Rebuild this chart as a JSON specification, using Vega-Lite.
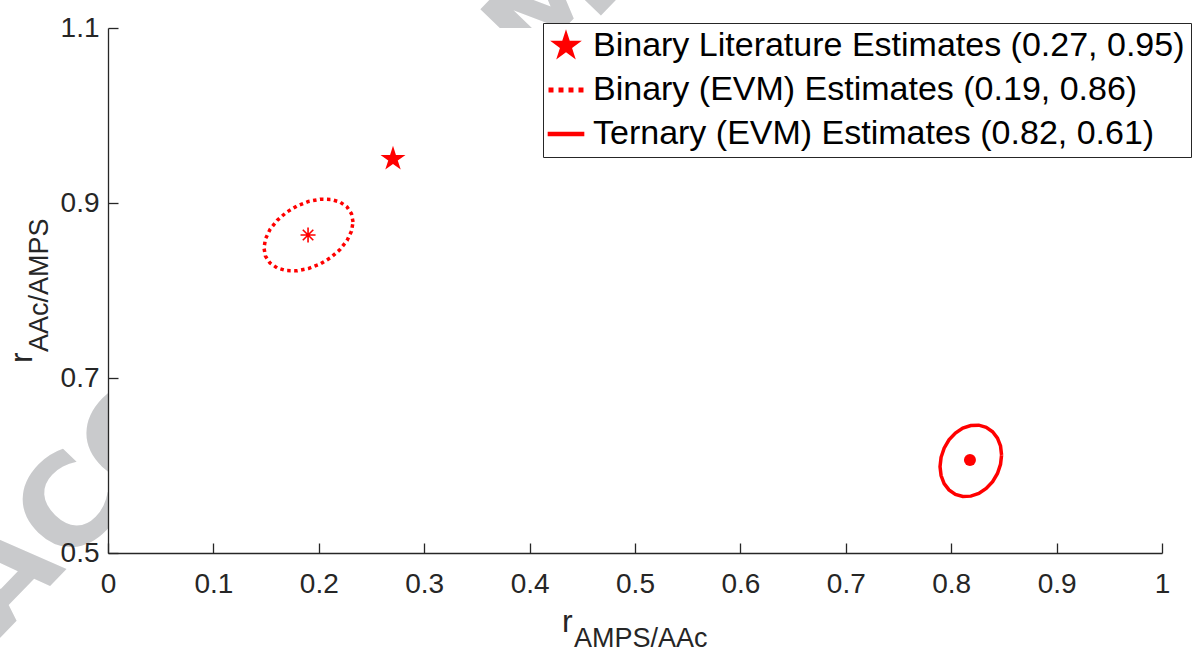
{
  "$schema": "https://vega.github.io/schema/vega-lite/v6.json",
  "width": 1054,
  "height": 525,
  "autosize": {"type": "none"},
  "padding": {"left": 108, "top": 28, "right": 38, "bottom": 101},
  "background": "white",
  "config": {"view": {"stroke": null}, "font": "Liberation Sans"},
  "datasets": {
    "ellipses": [
      {"s": "binary", "i": 0, "x": 0.2325, "y": 0.8783},
      {"s": "binary", "i": 1, "x": 0.2310, "y": 0.8877},
      {"s": "binary", "i": 2, "x": 0.2268, "y": 0.8955},
      {"s": "binary", "i": 3, "x": 0.2201, "y": 0.9011},
      {"s": "binary", "i": 4, "x": 0.2113, "y": 0.9041},
      {"s": "binary", "i": 5, "x": 0.2012, "y": 0.9043},
      {"s": "binary", "i": 6, "x": 0.1902, "y": 0.9018},
      {"s": "binary", "i": 7, "x": 0.1793, "y": 0.8966},
      {"s": "binary", "i": 8, "x": 0.1691, "y": 0.8892},
      {"s": "binary", "i": 9, "x": 0.1604, "y": 0.8800},
      {"s": "binary", "i": 10, "x": 0.1537, "y": 0.8697},
      {"s": "binary", "i": 11, "x": 0.1494, "y": 0.8590},
      {"s": "binary", "i": 12, "x": 0.1480, "y": 0.8486},
      {"s": "binary", "i": 13, "x": 0.1494, "y": 0.8392},
      {"s": "binary", "i": 14, "x": 0.1537, "y": 0.8314},
      {"s": "binary", "i": 15, "x": 0.1604, "y": 0.8258},
      {"s": "binary", "i": 16, "x": 0.1691, "y": 0.8228},
      {"s": "binary", "i": 17, "x": 0.1793, "y": 0.8225},
      {"s": "binary", "i": 18, "x": 0.1902, "y": 0.8251},
      {"s": "binary", "i": 19, "x": 0.2012, "y": 0.8302},
      {"s": "binary", "i": 20, "x": 0.2113, "y": 0.8376},
      {"s": "binary", "i": 21, "x": 0.2201, "y": 0.8468},
      {"s": "binary", "i": 22, "x": 0.2268, "y": 0.8571},
      {"s": "binary", "i": 23, "x": 0.2310, "y": 0.8678},
      {"s": "binary", "i": 24, "x": 0.2325, "y": 0.8783},
      {"s": "ternary", "i": 0, "x": 0.8478, "y": 0.6120},
      {"s": "ternary", "i": 1, "x": 0.8468, "y": 0.6223},
      {"s": "ternary", "i": 2, "x": 0.8439, "y": 0.6313},
      {"s": "ternary", "i": 3, "x": 0.8393, "y": 0.6386},
      {"s": "ternary", "i": 4, "x": 0.8332, "y": 0.6437},
      {"s": "ternary", "i": 5, "x": 0.8262, "y": 0.6461},
      {"s": "ternary", "i": 6, "x": 0.8186, "y": 0.6457},
      {"s": "ternary", "i": 7, "x": 0.8110, "y": 0.6427},
      {"s": "ternary", "i": 8, "x": 0.8040, "y": 0.6370},
      {"s": "ternary", "i": 9, "x": 0.7979, "y": 0.6293},
      {"s": "ternary", "i": 10, "x": 0.7933, "y": 0.6198},
      {"s": "ternary", "i": 11, "x": 0.7904, "y": 0.6094},
      {"s": "ternary", "i": 12, "x": 0.7894, "y": 0.5987},
      {"s": "ternary", "i": 13, "x": 0.7904, "y": 0.5885},
      {"s": "ternary", "i": 14, "x": 0.7933, "y": 0.5794},
      {"s": "ternary", "i": 15, "x": 0.7979, "y": 0.5721},
      {"s": "ternary", "i": 16, "x": 0.8040, "y": 0.5670},
      {"s": "ternary", "i": 17, "x": 0.8110, "y": 0.5646},
      {"s": "ternary", "i": 18, "x": 0.8186, "y": 0.5650},
      {"s": "ternary", "i": 19, "x": 0.8262, "y": 0.5680},
      {"s": "ternary", "i": 20, "x": 0.8332, "y": 0.5737},
      {"s": "ternary", "i": 21, "x": 0.8393, "y": 0.5815},
      {"s": "ternary", "i": 22, "x": 0.8439, "y": 0.5909},
      {"s": "ternary", "i": 23, "x": 0.8468, "y": 0.6013},
      {"s": "ternary", "i": 24, "x": 0.8478, "y": 0.6120}
    ],
    "centers": [
      {"s": "literature", "x": 0.2704, "y": 0.9503},
      {"s": "binary", "x": 0.1898, "y": 0.8634},
      {"s": "ternary", "x": 0.8178, "y": 0.6063}
    ],
    "legend": [
      {"series": "Binary Literature Estimates (0.27, 0.95)"},
      {"series": "Binary (EVM) Estimates (0.19, 0.86)"},
      {"series": "Ternary (EVM) Estimates (0.82, 0.61)"}
    ]
  },
  "layer": [
    {
      "data": {"values": [{"t": "ACCEPTED MANUSCRIPT"}]},
      "mark": {"type": "text", "align": "left", "baseline": "alphabetic", "angle": 314, "font": "DejaVu Sans", "fontWeight": "bold", "fontSize": 125, "color": "#c9cacc"},
      "encoding": {
        "x": {"datum": -0.1028, "type": "quantitative", "scale": {"domain": [0, 1], "nice": false, "zero": false}},
        "y": {"datum": 0.4026, "type": "quantitative", "scale": {"domain": [0.5, 1.1], "nice": false, "zero": false}},
        "text": {"field": "t"}
      }
    },
    {
      "data": {"values": [{"m": 1}]},
      "mark": {"type": "rect", "fill": "#ffffff", "opacity": 1},
      "encoding": {
        "x": {"datum": 0, "type": "quantitative"},
        "x2": {"datum": 1},
        "y": {"datum": 0.5, "type": "quantitative"},
        "y2": {"datum": 1.1}
      }
    },
    {
      "data": {"name": "ellipses"},
      "transform": [{"filter": "datum.s == 'binary'"}],
      "mark": {"type": "line", "color": "#ff0000", "strokeWidth": 3.5, "strokeDash": [3.5, 3.5], "strokeCap": "butt"},
      "encoding": {
        "x": {
          "field": "x", "type": "quantitative",
          "scale": {"domain": [0, 1], "nice": false, "zero": false},
          "axis": {
            "values": [0, 0.1, 0.2, 0.3, 0.4, 0.5, 0.6, 0.7, 0.8, 0.9, 1],
            "format": "~g", "title": null, "grid": false, "zindex": 1,
            "labelFont": "Liberation Sans", "labelFontSize": 28, "labelColor": "#262626",
            "domainColor": "#262626", "tickColor": "#262626", "domainWidth": 1.3, "tickWidth": 1.3,
            "tickSize": -10, "labelPadding": 27, "labelFlush": false, "labelOverlap": false
          }
        },
        "y": {
          "field": "y", "type": "quantitative",
          "scale": {"domain": [0.5, 1.1], "nice": false, "zero": false},
          "axis": {
            "values": [0.5, 0.7, 0.9, 1.1],
            "format": ".1f", "title": null, "grid": false, "zindex": 1,
            "labelFont": "Liberation Sans", "labelFontSize": 28, "labelColor": "#262626",
            "domainColor": "#262626", "tickColor": "#262626", "domainWidth": 1.3, "tickWidth": 1.3,
            "tickSize": -10, "labelPadding": 19, "labelFlush": false, "labelOverlap": false
          }
        },
        "order": {"field": "i", "type": "quantitative"}
      }
    },
    {
      "data": {"name": "ellipses"},
      "transform": [{"filter": "datum.s == 'ternary'"}],
      "mark": {"type": "line", "color": "#ff0000", "strokeWidth": 3.5},
      "encoding": {
        "x": {"field": "x", "type": "quantitative"},
        "y": {"field": "y", "type": "quantitative"},
        "order": {"field": "i", "type": "quantitative"}
      }
    },
    {
      "data": {"name": "centers"},
      "transform": [{"filter": "datum.s == 'literature'"}],
      "mark": {"type": "point", "filled": true, "color": "#ff0000", "opacity": 1, "size": 690,
        "shape": "M0,-1L0.2245,-0.309L0.951,-0.309L0.363,0.118L0.588,0.809L0,0.382L-0.588,0.809L-0.363,0.118L-0.951,-0.309L-0.2245,-0.309Z"},
      "encoding": {
        "x": {"field": "x", "type": "quantitative"},
        "y": {"field": "y", "type": "quantitative"}
      }
    },
    {
      "data": {"name": "centers"},
      "transform": [{"filter": "datum.s == 'binary'"}],
      "mark": {"type": "point", "filled": false, "stroke": "#ff0000", "strokeWidth": 1.6, "opacity": 1, "size": 225,
        "shape": "M-1,0L1,0M0,-1L0,1M-0.7,-0.7L0.7,0.7M-0.7,0.7L0.7,-0.7"},
      "encoding": {
        "x": {"field": "x", "type": "quantitative"},
        "y": {"field": "y", "type": "quantitative"}
      }
    },
    {
      "data": {"name": "centers"},
      "transform": [{"filter": "datum.s == 'ternary'"}],
      "mark": {"type": "point", "filled": true, "color": "#ff0000", "opacity": 1, "size": 144, "shape": "circle"},
      "encoding": {
        "x": {"field": "x", "type": "quantitative"},
        "y": {"field": "y", "type": "quantitative"}
      }
    },
    {
      "data": {"name": "legend"},
      "transform": [{"filter": "false"}],
      "mark": {"type": "point", "filled": true, "color": "#ff0000", "opacity": 1},
      "encoding": {
        "shape": {
          "field": "series", "type": "nominal",
          "scale": {
            "domain": ["Binary Literature Estimates (0.27, 0.95)", "Binary (EVM) Estimates (0.19, 0.86)", "Ternary (EVM) Estimates (0.82, 0.61)"],
            "range": [
              "M0,-1L0.2245,-0.309L0.951,-0.309L0.363,0.118L0.588,0.809L0,0.382L-0.588,0.809L-0.363,0.118L-0.951,-0.309L-0.2245,-0.309Z",
              "M-1.05,-0.15H-0.75V0.15H-1.05ZM-0.45,-0.15H-0.15V0.15H-0.45ZM0.15,-0.15H0.45V0.15H0.15ZM0.75,-0.15H1.05V0.15H0.75Z",
              "M-1.1,-0.13H1.1V0.13H-1.1Z"
            ]
          },
          "legend": {
            "title": null, "orient": "none", "legendX": 435, "legendY": -5,
            "labelFont": "Liberation Sans", "labelFontSize": 34, "labelColor": "#000000", "labelLimit": 2000,
            "labelOffset": 10, "symbolSize": 1110, "symbolStrokeWidth": 0,
            "symbolFillColor": "#ff0000", "symbolOpacity": 1,
            "strokeColor": "#262626", "fillColor": "#ffffff", "padding": 6, "rowPadding": 10
          }
        }
      }
    },
    {
      "data": {"values": [{"t": "r"}]},
      "mark": {"type": "text", "align": "left", "baseline": "alphabetic", "font": "Liberation Sans", "fontSize": 32, "color": "#262626", "dy": 79},
      "encoding": {
        "x": {"datum": 0.4307, "type": "quantitative"},
        "y": {"datum": 0.5, "type": "quantitative"},
        "text": {"field": "t"}
      }
    },
    {
      "data": {"values": [{"t": "AMPS/AAc"}]},
      "mark": {"type": "text", "align": "left", "baseline": "alphabetic", "font": "Liberation Sans", "fontSize": 27, "color": "#262626", "dy": 94},
      "encoding": {
        "x": {"datum": 0.4421, "type": "quantitative"},
        "y": {"datum": 0.5, "type": "quantitative"},
        "text": {"field": "t"}
      }
    },
    {
      "data": {"values": [{"t": "r"}]},
      "mark": {"type": "text", "align": "left", "baseline": "alphabetic", "angle": 270, "font": "Liberation Sans", "fontSize": 32, "color": "#262626", "dy": -76},
      "encoding": {
        "x": {"datum": 0, "type": "quantitative"},
        "y": {"datum": 0.7171, "type": "quantitative"},
        "text": {"field": "t"}
      }
    },
    {
      "data": {"values": [{"t": "AAc/AMPS"}]},
      "mark": {"type": "text", "align": "left", "baseline": "alphabetic", "angle": 270, "font": "Liberation Sans", "fontSize": 27, "color": "#262626", "dy": -60},
      "encoding": {
        "x": {"datum": 0, "type": "quantitative"},
        "y": {"datum": 0.7297, "type": "quantitative"},
        "text": {"field": "t"}
      }
    }
  ]
}
